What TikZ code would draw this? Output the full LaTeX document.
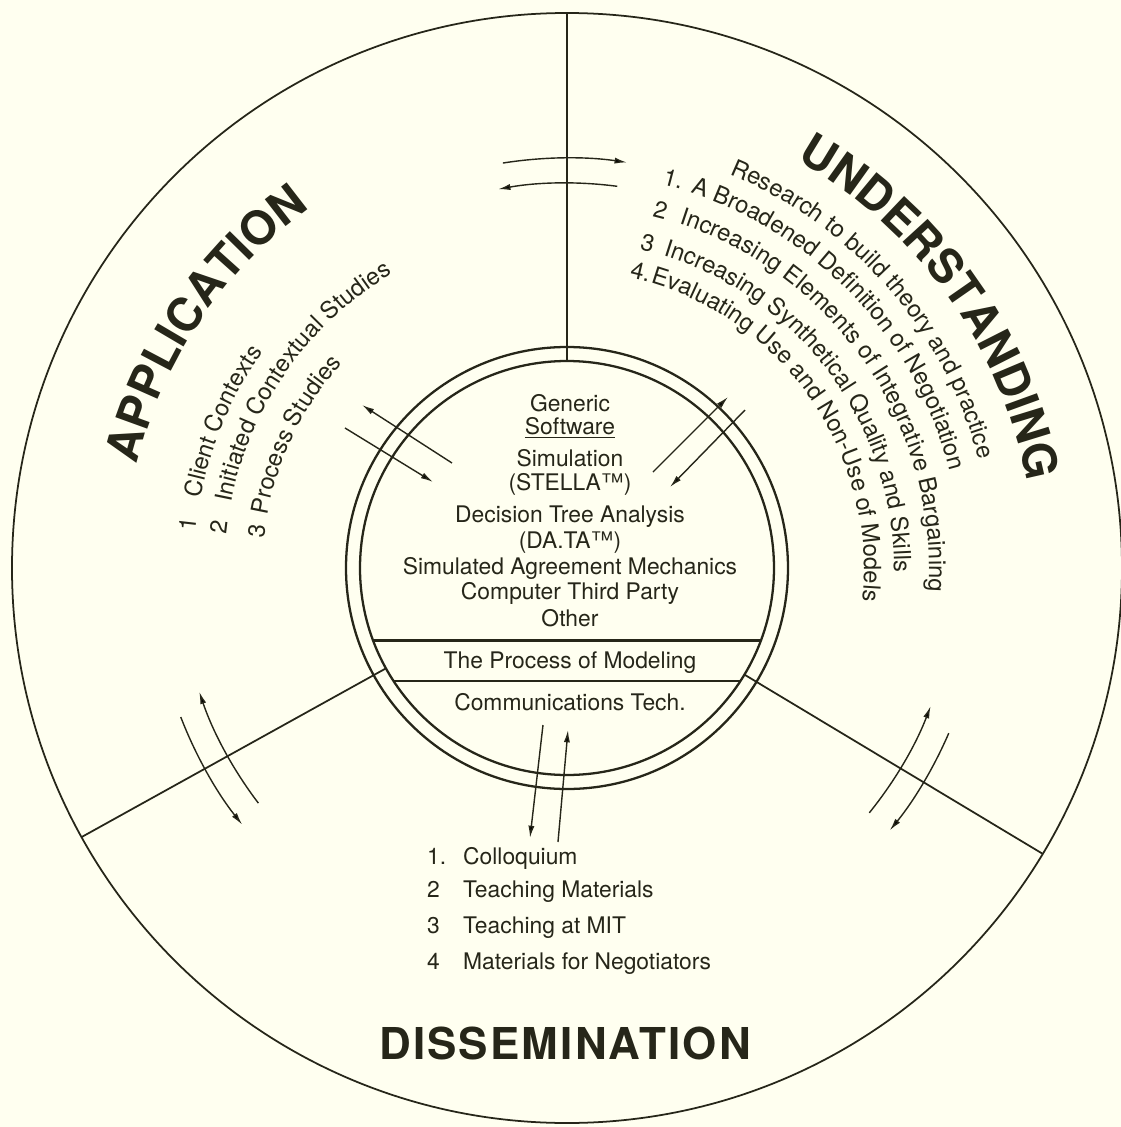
\documentclass[tikz,border=0pt]{standalone}
\usepackage{fontspec}
\setmainfont{TeX Gyre Heros}
\usepackage{tikz}
\usetikzlibrary{arrows.meta, decorations.text}
\definecolor{paper}{HTML}{FFFFF0}
\definecolor{ink}{HTML}{262619}
\newcommand{\bigfont}{\fontsize{26.5}{30}\selectfont\bfseries}
\newcommand{\smallfont}{\fontsize{13}{15}\selectfont}
\newcommand{\arcfont}{\fontsize{13.5}{15}\selectfont}

\begin{document}
\begin{tikzpicture}[x=0.02cm, y=0.02cm,
  rim/.style={draw=ink, line width=1pt},
  ring/.style={draw=ink, line width=1.3pt},
  flow/.style={draw=ink, line width=0.8pt, -{Latex[length=7pt,width=3.5pt]}},
  arctext/.style={decorate, decoration={text along path, text align=left, text color=ink}},
  every node/.style={text=ink}]
  \useasboundingbox (-567,-559) rectangle (554,568);
  \fill[paper] (-567,-559) rectangle (554,568);
  \coordinate (c) at (0,0);

  % wheel
  \draw[rim] (c) circle[radius=555];
  \draw[ring] (c) circle[radius=221];
  \draw[ring] (c) circle[radius=207];
  \foreach \a in {90, 209, -31}{
    \draw[rim] (\a:207) -- (\a:555);
  }
  \draw[ring] (200.5:207) -- (-20.5:207);
  \draw[ring] (213.2:207) -- (-33.2:207);

  % hub
  \foreach \y/\t [count=\i] in {165/Generic, 140/{\underline{Software}}, 110/Simulation,
      84/{(STELLA™)}, 51/{Decision Tree Analysis}, 25/{(DA.TA™)},
      0/{Simulated Agreement Mechanics}, -25/{Computer Third Party}, -50/Other,
      -95/{The Process of Modeling}, -134/{Communications Tech.}}{
    \node (hub\i) at (3,\y) {\smallfont \t};
  }

  % sector titles
  \path[arctext, decoration={text align=center, text={|\bigfont|APPLICATION}}]
    (170:442) arc[start angle=170, end angle=122, radius=442];
  \path[arctext, decoration={text align=center, text={|\bigfont|UNDERSTANDING}}]
    (62:468) arc[start angle=62, end angle=9.3, radius=468];
  \node (dis) at (-2,-475) {\fontsize{25}{30}\selectfont\bfseries\addfontfeature{LetterSpace=5}DISSEMINATION};

  % understanding
  \path[arctext, decoration={text={|\arcfont|Research to build theory and practice}}]
    (67.6:426) arc[start angle=67.6, end angle=-30, radius=426];
  \foreach \r/\a/\b/\n/\t in {395/76.1/71.8/1./{A Broadened Definition of Negotiation},
      362/76.4/72.0/2/{Increasing Elements of Integrative Bargaining},
      327/77.2/72.9/3/{Increasing Synthetical Quality and Skills},
      297/77.9/73.7/4./{Evaluating Use and Non-Use of Models}}{
    \path[arctext, decoration={text/.expanded={|\noexpand\arcfont|\n}}]
      (\a:\r) arc[start angle=\a, end angle=\a-20, radius=\r];
    \path[arctext, decoration={text/.expanded={|\noexpand\arcfont|\t}}]
      (\b:\r) arc[start angle=\b, end angle=-30, radius=\r];
  }

  % application
  \foreach \r/\b/\n/\t in {373/169.3/1/{Client Contexts},
      342/169.0/2/{Initiated Contextual Studies},
      304/170.0/3/{Process Studies}}{
    \path[arctext, decoration={text/.expanded={|\noexpand\arcfont|\n}}]
      (174.4:\r) arc[start angle=174.4, end angle=160, radius=\r];
    \path[arctext, decoration={text/.expanded={|\noexpand\arcfont|\t}}]
      (\b:\r) arc[start angle=\b, end angle=90, radius=\r];
  }

  % dissemination
  \foreach \y/\n/\t [count=\i] in {-292/1./Colloquium, -325/2/{Teaching Materials},
      -361/3/{Teaching at MIT}, -397/4/{Materials for Negotiators}}{
    \node[anchor=mid west] (num\i) at (-146,\y) {\smallfont \n};
    \node[anchor=mid west] (item\i) at (-110,\y) {\smallfont \t};
  }

  % exchanges between sectors
  \draw[flow] (99:410) arc[start angle=99, end angle=81.6, radius=410];
  \draw[flow] (82.5:385) arc[start angle=82.5, end angle=100.3, radius=385];
  \draw[flow] (217.3:388) arc[start angle=217.3, end angle=198.6, radius=388];
  \draw[flow] (201.1:414) arc[start angle=201.1, end angle=218.3, radius=414];
  \draw[flow] (-39:389) arc[start angle=-39, end angle=-20.8, radius=389];
  \draw[flow] (-23.4:416) arc[start angle=-23.4, end angle=-39.1, radius=416];

  % exchanges with the hub
  \draw[flow] (-115,105) -- (-205,163);
  \draw[flow] (-222,140) -- (-134,86);
  \draw[flow] (86,96) -- (161,171);
  \draw[flow] (178,158) -- (103,81);
  \draw[flow] (-24,-157) -- (-37,-270);
  \draw[flow] (-9,-274) -- (1,-162);
\end{tikzpicture}
\end{document}
